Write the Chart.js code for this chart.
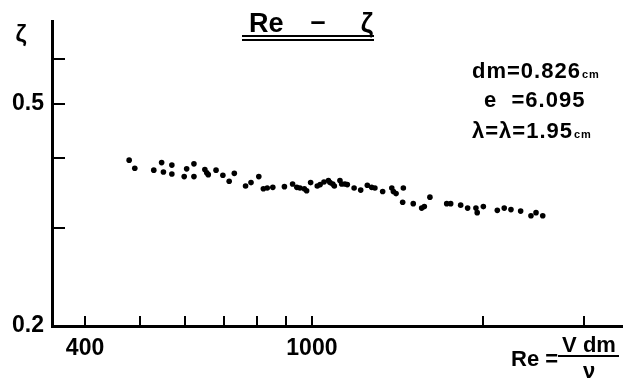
<!DOCTYPE html>
<html>
<head>
<meta charset="utf-8">
<script src="https://cdn.jsdelivr.net/npm/chart.js@4/dist/chart.umd.min.js"></script>
<style>
  html, body { margin: 0; padding: 0; background: #fff; }
  #wrap { width: 634px; height: 380px; }
</style>
</head>
<body>
<div id="wrap"><canvas id="chart" width="634" height="380"></canvas></div>
<script>
const reValues = [478, 489, 528, 545, 549, 568, 568, 597, 603, 621, 621, 649, 654, 658, 679, 698, 716, 731, 765, 782,
  807, 822, 835, 854, 895, 925, 941, 953, 970, 979, 995, 1022, 1034, 1050, 1069, 1076, 1088, 1095, 1120, 1128,
  1143, 1154, 1186, 1218, 1251, 1273, 1290, 1331, 1381, 1390, 1405, 1447, 1443, 1506, 1558, 1575, 1611, 1724, 1752, 1824,
  1876, 1940, 1950, 1999, 2115, 2175, 2235, 2324, 2423, 2473, 2541];
const zetaValues = [0.396, 0.383, 0.380, 0.392, 0.377, 0.388, 0.374, 0.370, 0.382, 0.390, 0.370, 0.381, 0.376, 0.373, 0.380, 0.372, 0.363, 0.375, 0.356, 0.361,
  0.370, 0.352, 0.353, 0.354, 0.355, 0.359, 0.354, 0.353, 0.352, 0.349, 0.361, 0.356, 0.358, 0.362, 0.364, 0.361, 0.359, 0.356, 0.364, 0.359,
  0.359, 0.358, 0.353, 0.350, 0.357, 0.354, 0.353, 0.348, 0.353, 0.348, 0.345, 0.353, 0.333, 0.331, 0.325, 0.327, 0.340, 0.331, 0.331, 0.329,
  0.325, 0.325, 0.319, 0.327, 0.322, 0.325, 0.323, 0.321, 0.315, 0.319, 0.315];

const xTicks = [400, 500, 600, 700, 800, 900, 1000, 2000, 3000];
const xTickLabels = ['400', '', '', '', '', '', '1000', '', ''];
const yTicks = [0.2, 0.3, 0.4, 0.5, 0.6];
const yTickLabels = ['0.2', '', '', '0.5', ''];

const FONT = '"Liberation Sans", Arial, sans-serif';

// ticks drawn inward from the axes, like the original drawing
const inwardTicks = {
  id: 'inwardTicks',
  afterDraw(chart) {
    const { ctx, chartArea, scales } = chart;
    ctx.save();
    ctx.strokeStyle = '#000';
    ctx.lineWidth = 2;
    for (const v of xTicks) {
      const px = Math.round(scales.x.getPixelForValue(v));
      ctx.beginPath();
      ctx.moveTo(px, chartArea.bottom);
      ctx.lineTo(px, chartArea.bottom - 10);
      ctx.stroke();
    }
    for (const v of yTicks.slice(1)) {
      const py = Math.round(scales.y.getPixelForValue(v));
      ctx.beginPath();
      ctx.moveTo(chartArea.left, py);
      ctx.lineTo(chartArea.left + 13, py);
      ctx.stroke();
    }
    ctx.restore();
  },
};

// title, parameters and axis names
const labels = {
  id: 'labels',
  afterDraw(chart) {
    const { ctx } = chart;
    ctx.save();
    ctx.fillStyle = '#000';
    ctx.strokeStyle = '#000';
    ctx.textBaseline = 'alphabetic';

    // title
    ctx.font = `bold 27px ${FONT}`;
    ctx.textAlign = 'left';
    ctx.fillText('Re', 249, 32);
    ctx.textAlign = 'center';
    ctx.fillText('–', 318, 30);
    ctx.fillText('ζ', 367, 32);
    ctx.lineWidth = 2;
    ctx.beginPath();
    ctx.moveTo(242, 36); ctx.lineTo(374, 36);
    ctx.moveTo(242, 40); ctx.lineTo(374, 40);
    ctx.stroke();

    // parameters
    ctx.textAlign = 'left';
    ctx.letterSpacing = '1px';
    const rows = [
      { text: 'dm=0.826', unit: 'cm', x: 472, y: 78 },
      { text: 'e  =6.095', unit: '', x: 484, y: 107 },
      { text: 'λ=λ=1.95', unit: 'cm', x: 472, y: 138 },
    ];
    for (const r of rows) {
      ctx.font = `bold 22px ${FONT}`;
      ctx.fillText(r.text, r.x, r.y);
      const w = ctx.measureText(r.text).width;
      if (r.unit) {
        ctx.font = `bold 11px ${FONT}`;
        ctx.fillText(r.unit, r.x + w + 1, r.y);
      }
    }
    ctx.letterSpacing = '0px';

    // y axis name
    ctx.font = `bold 24px ${FONT}`;
    ctx.textAlign = 'center';
    ctx.fillText('ζ', 21, 42);

    // x axis name: Re = V dm / ν
    ctx.font = `bold 22px ${FONT}`;
    ctx.textAlign = 'left';
    ctx.fillText('Re =', 511, 366);
    ctx.textAlign = 'center';
    ctx.fillText('V dm', 589, 352);
    ctx.fillText('ν', 589, 378);
    ctx.lineWidth = 2;
    ctx.beginPath();
    ctx.moveTo(558, 356); ctx.lineTo(619, 356);
    ctx.stroke();
    ctx.restore();
  },
};

new Chart(document.getElementById('chart'), {
  type: 'scatter',
  data: {
    datasets: [{
      data: reValues.map((x, i) => ({ x, y: zetaValues[i] })),
      backgroundColor: '#000',
      borderColor: '#000',
      pointRadius: 2.8,
      pointBorderWidth: 0,
    }],
  },
  options: {
    responsive: false,
    animation: false,
    devicePixelRatio: 1,
    layout: { padding: { top: 16, right: 12, left: 0, bottom: 0 } },
    plugins: {
      legend: { display: false },
      tooltip: { enabled: false },
    },
    scales: {
      x: {
        type: 'logarithmic',
        min: 350,
        max: 3500,
        afterBuildTicks: (scale) => { scale.ticks = xTicks.map(v => ({ value: v })); },
        afterFit: (scale) => { scale.height = 54; },
        grid: { display: false, drawTicks: false },
        border: { display: true, color: '#000', width: 3 },
        ticks: {
          autoSkip: false,
          maxRotation: 0,
          padding: 9,
          color: '#000',
          font: { family: FONT, size: 23, weight: 'bold' },
          callback: (v) => xTickLabels[xTicks.indexOf(v)] ?? '',
        },
      },
      y: {
        type: 'logarithmic',
        min: 0.2,
        max: 0.7,
        afterBuildTicks: (scale) => { scale.ticks = yTicks.map(v => ({ value: v })); },
        afterFit: (scale) => { scale.width = 52; },
        grid: { display: false, drawTicks: false },
        border: { display: true, color: '#000', width: 3 },
        ticks: {
          autoSkip: false,
          padding: 8,
          color: '#000',
          font: { family: FONT, size: 23, weight: 'bold' },
          callback: (v) => yTickLabels[yTicks.indexOf(v)] ?? '',
        },
      },
    },
  },
  plugins: [inwardTicks, labels],
});
</script>
</body>
</html>
